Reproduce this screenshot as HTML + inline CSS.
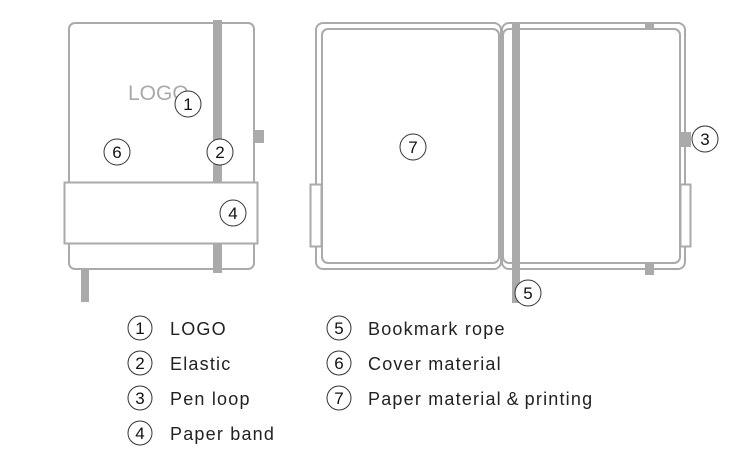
<!DOCTYPE html>
<html><head><style>
html,body{margin:0;padding:0;background:#fff;width:749px;height:462px;overflow:hidden}
svg{display:block}
text{font-family:"Liberation Sans","DejaVu Sans",sans-serif}
</style></head><body>
<svg width="749" height="462" viewBox="0 0 749 462" xmlns="http://www.w3.org/2000/svg">
<g fill="none" stroke="#aaa" stroke-width="2">
  <rect x="69" y="23" width="185" height="246" rx="6"/>
  <rect x="64.5" y="182.5" width="193" height="61" fill="#fff"/>
  <rect x="316" y="23" width="185" height="246" rx="7"/>
  <rect x="502" y="23" width="183" height="246" rx="7"/>
  <rect x="322" y="29" width="177" height="234" rx="6"/>
  <rect x="503" y="29" width="177" height="234" rx="6"/>
  <rect x="310.5" y="184.5" width="11" height="62" fill="#fff"/>
  <rect x="680.5" y="184.5" width="10" height="62" fill="#fff"/>
</g>
<g fill="#aaa">
  <rect x="213" y="20" width="9" height="162"/>
  <rect x="213" y="244" width="9" height="29"/>
  <rect x="254" y="130" width="10" height="13"/>
  <rect x="81" y="269" width="8" height="33"/>
  <rect x="512" y="23" width="8" height="280"/>
  <rect x="645" y="22" width="9" height="8"/>
  <rect x="645" y="264" width="9" height="11"/>
  <rect x="679" y="132" width="12" height="15"/>
</g>
<text x="128" y="100" font-size="21" fill="#aaa">LOGO</text>
<g fill="#fff" stroke="#333" stroke-width="1">
  <circle cx="188" cy="104" r="13"/>
  <circle cx="117" cy="152" r="13"/>
  <circle cx="220" cy="152" r="13"/>
  <circle cx="233" cy="213" r="13"/>
  <circle cx="413" cy="147" r="13"/>
  <circle cx="528" cy="293" r="13"/>
  <circle cx="705" cy="139" r="13"/>
  <circle cx="140" cy="328" r="12"/>
  <circle cx="140" cy="363" r="12"/>
  <circle cx="140" cy="398" r="12"/>
  <circle cx="140" cy="433" r="12"/>
  <circle cx="339" cy="328" r="12"/>
  <circle cx="339" cy="363" r="12"/>
  <circle cx="339" cy="398" r="12"/>
</g>
<g font-size="17" fill="#111" text-anchor="middle">
  <text x="188" y="110">1</text>
  <text x="117" y="158">6</text>
  <text x="220" y="158">2</text>
  <text x="233" y="219">4</text>
  <text x="413" y="153">7</text>
  <text x="528" y="299">5</text>
  <text x="705" y="145">3</text>
  <text x="140" y="334">1</text>
  <text x="140" y="369">2</text>
  <text x="140" y="404">3</text>
  <text x="140" y="439">4</text>
  <text x="339" y="334">5</text>
  <text x="339" y="369">6</text>
  <text x="339" y="404">7</text>
</g>
<g font-size="18" fill="#222" letter-spacing="1.2">
  <text x="170" y="335">LOGO</text>
  <text x="170" y="370">Elastic</text>
  <text x="170" y="405">Pen loop</text>
  <text x="170" y="440">Paper band</text>
  <text x="368" y="335">Bookmark rope</text>
  <text x="368" y="370">Cover material</text>
  <text x="368" y="405">Paper material&#8201;&amp;&#8201;printing</text>
</g>
</svg>
</body></html>
